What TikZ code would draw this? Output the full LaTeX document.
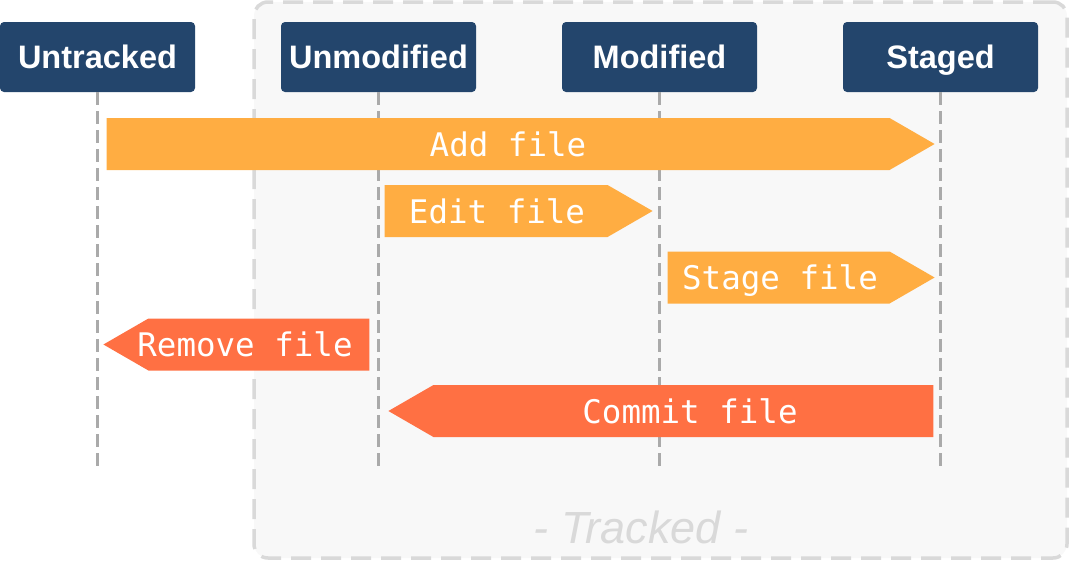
\documentclass[tikz,border=0pt]{standalone}
\usepackage{fontspec}
\setmainfont{Liberation Sans}
\newfontfamily\labelmono{DejaVu Sans Mono}
\usetikzlibrary{shapes.arrows}

\definecolor{statenavy}{HTML}{23456C}
\definecolor{addorange}{HTML}{FFAD42}
\definecolor{removered}{HTML}{FF7043}
\definecolor{lifegray}{HTML}{AAAAAA}
\definecolor{trackgray}{HTML}{D9D9D9}
\definecolor{trackfill}{HTML}{F8F8F8}

\tikzset{
  state/.style={fill=statenavy, text=white, rounded corners=4pt,
    minimum width=195pt, minimum height=70pt, inner sep=0pt,
    font=\fontsize{32.5}{34}\selectfont\bfseries, text height=23.3pt, text depth=0pt},
  lifeline/.style={draw=lifegray, line width=3.8pt, dash pattern=on 13pt off 6pt},
  trackedbox/.style={draw=trackgray, fill=trackfill, line width=3.5pt,
    dash pattern=on 20pt off 10pt, rounded corners=14pt, inner sep=0pt},
  flow/.style={single arrow, single arrow head extend=0pt, single arrow tip angle=60,
    minimum width=52pt, inner sep=0pt, anchor=tip},
  flowlabel/.style={text=white, inner sep=0pt, text height=24pt, text depth=0pt,
    font=\labelmono\fontsize{32.5}{34}\selectfont}
}

\begin{document}
\begin{tikzpicture}[x=1pt,y=-1pt]
  \useasboundingbox (0,0) rectangle (1069,560);

  \node[trackedbox, minimum width=813pt, minimum height=556pt] (tracked) at (660.5,280) {};
  \node[anchor=base, text=trackgray, font=\fontsize{45}{48}\selectfont\itshape]
    (trackedlabel) at (641,543) {- Tracked -};

  \begin{scope}[every node/.style={state}]
    \node (untracked)  at (97.5,57)  {Untracked};
    \node (unmodified) at (378.5,57) {Unmodified};
    \node (modified)   at (659.5,57) {Modified};
    \node (staged)     at (940.5,57) {Staged};
  \end{scope}

  \foreach \s in {untracked,unmodified,modified,staged} {
    \coordinate (\s end) at (\s.south |- 0,468);
    \draw[lifeline] (\s.south) -- (\s end);
  }

  \begin{scope}[every node/.style={flow}]
    \node[fill=addorange, minimum height=828pt] (add)    at (935,144) {};
    \node[fill=addorange, minimum height=268pt] (edit)   at (653,211) {};
    \node[fill=addorange, minimum height=267pt] (stage)  at (935,277.5) {};
    \node[fill=removered, minimum height=266pt, shape border rotate=180] (remove) at (103,344.5) {};
    \node[fill=removered, minimum height=545pt, shape border rotate=180] (commit) at (388,411) {};
  \end{scope}

  \begin{scope}[every node/.style={flowlabel}]
    \node (add text)    at (508,144)   {Add file};
    \node (edit text)   at (497,211)   {Edit file};
    \node (stage text)  at (780,277.5) {Stage file};
    \node (remove text) at (245,344.5) {Remove file};
    \node (commit text) at (690,411)   {Commit file};
  \end{scope}

\end{tikzpicture}
\end{document}
